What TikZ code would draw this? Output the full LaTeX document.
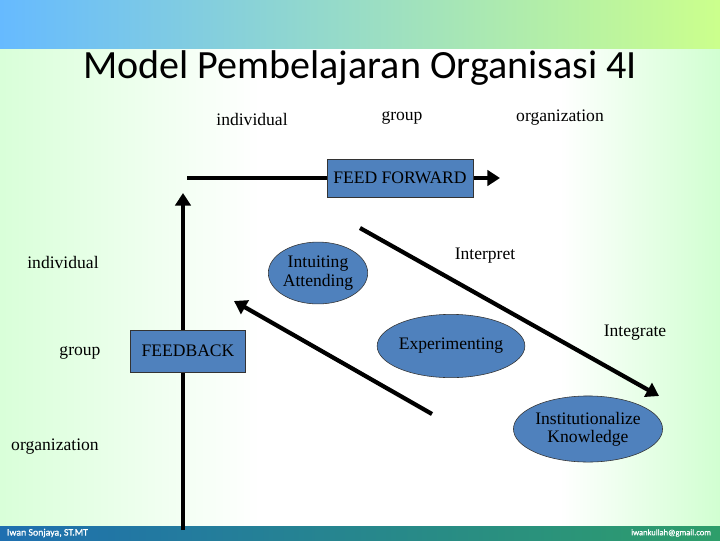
\documentclass[tikz,border=0pt]{standalone}
\usepackage{fontspec}
\setmainfont{Liberation Serif}
\newfontfamily\titlefont{Carlito}
\newfontfamily\barfont{Carlito}[FakeBold=1]
\usetikzlibrary{shapes.geometric,arrows.meta}
\definecolor{boxblue}{HTML}{4F81BD}
\definecolor{bargreen}{HTML}{2E9E6A}
\definecolor{barblue}{HTML}{1F6FB0}
\tikzset{
  box/.style={draw=black!80,fill=boxblue,inner sep=0pt},
  oval/.style={ellipse,draw=black!80,fill=boxblue,align=center,inner sep=0pt},
  lbl/.style={font=\fontsize{12.5}{13}\selectfont},
  bigarrow/.style={line width=3pt,-{Triangle[length=9pt,width=11pt]}}
}
\begin{document}
\begin{tikzpicture}[x=0.025cm,y=-0.025cm]
\useasboundingbox (0,0) rectangle (720,540);
\fill[white] (0,0) rectangle (720,540);
\shade[left color=green!15,right color=white] (0,0) rectangle (260,540);
\shade[left color=white,right color=green!18] (560,0) rectangle (720,540);
\shade[left color=blue!45!cyan!60,right color=green!45!yellow!45] (0,0) rectangle (720,48);
\shade[left color=barblue,right color=bargreen] (0,526) rectangle (720,540);
\node[white,anchor=west,font=\barfont\fontsize{7}{8}\selectfont] (author) at (2,533) {Iwan Sonjaya, ST.MT};
\node[white,anchor=east,font=\barfont\fontsize{6}{7}\selectfont] (mail) at (716,533) {iwankullah@gmail.com};
\node[font=\titlefont\fontsize{28.5}{31}\selectfont] (title) at (360,68) {Model Pembelajaran Organisasi 4I};
% column labels
\node[lbl] (ci) at (252,119) {individual};
\node[lbl] (cg) at (402,118) {group};
\node[lbl] (co) at (560,118) {organization};
% row labels
\node[lbl] (ri) at (63,262) {individual};
\node[lbl] (rg) at (80,353) {group};
\node[lbl] (ro) at (55,447) {organization};
% axes
\coordinate (ffs) at (187,178);
\coordinate (ffe) at (500,178);
\coordinate (fbs) at (183,530);
\coordinate (fbe) at (183,193);
\draw[bigarrow] (ffs) -- (ffe);
\draw[bigarrow] (fbs) -- (fbe);
\node[box,minimum width=104pt,minimum height=27pt] (ff) at (400,178) {};
\node[lbl] at (ff) {FEED FORWARD};
\node[box,minimum width=82pt,minimum height=30pt] (fb) at (188,351) {};
\node[lbl] at (fb) {FEEDBACK};
% processes
\node[oval,lbl,minimum width=67pt,minimum height=44pt] (intu) at (318,273) {Intuiting\\Attending};
\node[oval,lbl,minimum width=102pt,minimum height=45pt] (exp) at (451,346) {Experimenting};
\node[oval,lbl,minimum width=99pt,minimum height=47pt] (inst) at (588,429) {Institutionalize\\Knowledge};
\node[lbl] (interp) at (485,256) {Interpret};
\node[lbl] (integ) at (635,333) {Integrate};
% diagonal flows
\coordinate (ds) at (360,228);
\coordinate (de) at (659,396);
\coordinate (us) at (432,414);
\coordinate (ue) at (234,301);
\draw[bigarrow] (ds) -- (de);
\draw[bigarrow] (us) -- (ue);
\end{tikzpicture}
\end{document}
